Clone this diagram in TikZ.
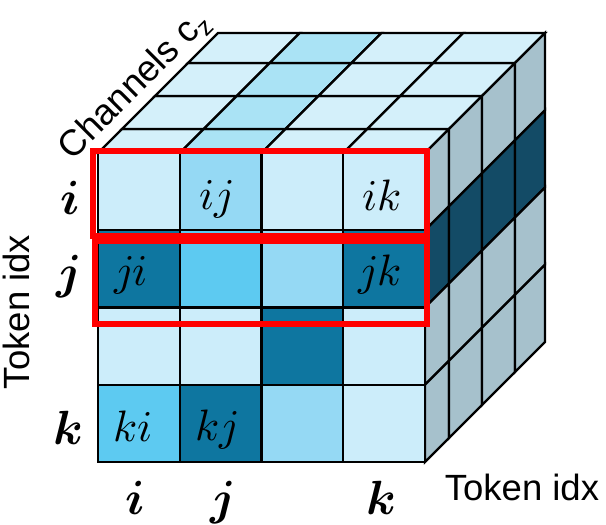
\documentclass[tikz,border=0pt]{standalone}
\usepackage{fontspec}
\usepackage{unicode-math}
\setmathfont{Latin Modern Math}
\newfontfamily\sansarial{Liberation Sans}
\definecolor{flt}{HTML}{CCEDFA}
\definecolor{fmd}{HTML}{95D9F4}
\definecolor{fbr}{HTML}{5DCAF1}
\definecolor{fdk}{HTML}{0E76A0}
\definecolor{tlt}{HTML}{D4F0FA}
\definecolor{tmd}{HTML}{AAE3F5}
\definecolor{rgr}{HTML}{A6C1CC}
\definecolor{rdk}{HTML}{134B66}
\definecolor{redbox}{HTML}{FF0000}
\begin{document}
\begin{tikzpicture}[x=1pt,y=-1pt,
  grid/.style={draw=black,line width=2.4pt,line join=miter},
  hilite/.style={draw=redbox,line width=6.5pt},
  lab/.style={font=\fontsize{44}{44}\selectfont,inner sep=0pt,anchor=base},
  axlab/.style={font=\fontsize{48}{48}\selectfont,inner sep=0pt,anchor=base},
  axtitle/.style={font=\sansarial\fontsize{36.5}{36.5}\selectfont,inner sep=0pt}]
\useasboundingbox (0,0) rectangle (606,525);
\def\OS{{0,24,57,90,120}}
% top face
\foreach \c in {0,...,3}{
 \foreach \d in {0,...,3}{
  \pgfmathsetmacro\oa{\OS[\d]}
  \pgfmathsetmacro\ob{\OS[\d+1]}
  \pgfmathsetmacro\xa{98+81.75*\c}
  \pgfmathsetmacro\xb{98+81.75*(\c+1)}
  \ifnum\c=1 \def\tf{tmd}\else\def\tf{tlt}\fi
  \filldraw[grid,fill=\tf] ({\xa+\oa},{153-\oa}) -- ({\xb+\oa},{153-\oa}) -- ({\xb+\ob},{153-\ob}) -- ({\xa+\ob},{153-\ob}) -- cycle;
 }}
% right face
\foreach \r in {0,...,3}{
 \foreach \d in {0,...,3}{
  \pgfmathsetmacro\oa{\OS[\d]}
  \pgfmathsetmacro\ob{\OS[\d+1]}
  \pgfmathsetmacro\ya{153+77.25*\r}
  \pgfmathsetmacro\yb{153+77.25*(\r+1)}
  \ifnum\r=1 \def\rf{rdk}\else\def\rf{rgr}\fi
  \filldraw[grid,fill=\rf] ({425+\oa},{\ya-\oa}) -- ({425+\ob},{\ya-\ob}) -- ({425+\ob},{\yb-\ob}) -- ({425+\oa},{\yb-\oa}) -- cycle;
 }}
% front face
\foreach \r/\c/\f in {0/0/flt,0/1/fmd,0/2/flt,0/3/flt,
                      1/0/fdk,1/1/fbr,1/2/fmd,1/3/fdk,
                      2/0/flt,2/1/flt,2/2/fdk,2/3/flt,
                      3/0/fbr,3/1/fdk,3/2/fmd,3/3/flt}
  \filldraw[grid,fill=\f] ({98+81.75*\c},{153+77.25*\r}) rectangle ({98+81.75*(\c+1)},{153+77.25*(\r+1)});
% cell labels
\node[lab] (ij) at (216,209) {$ij$};
\node[lab] (ik) at (382,210) {$ik$};
\node[lab] (ji) at (131,285) {$ji$};
\node[lab] (jk) at (380,285) {$jk$};
\node[lab] (ki) at (133,441) {$ki$};
\node[lab] (kj) at (217,440) {$kj$};
% red boxes
\draw[hilite] (93,151) rectangle (427,236);
\draw[hilite] (95,241) rectangle (427,324);
% axis labels
\node[axlab] (li) at (70,214) {$\symbfit{i}$};
\node[axlab] (lj) at (68,288) {$\symbfit{j}$};
\node[axlab] (lk) at (68,444) {$\symbfit{k}$};
\node[axlab] (bi) at (135,514) {$\symbfit{i}$};
\node[axlab] (bj) at (222,514) {$\symbfit{j}$};
\node[axlab] (bk) at (381,514) {$\symbfit{k}$};
% axis titles
\node[axtitle,rotate=90,anchor=base] (tl) at (30,312) {Token idx};
\node[axtitle,anchor=base] (tb) at (522,500) {Token idx};
\node[axtitle,rotate=45,anchor=base] (ch) at (141.5,92.5) {Channels c\raisebox{-7pt}{\fontsize{25}{25}\selectfont z}};
\end{tikzpicture}
\end{document}
